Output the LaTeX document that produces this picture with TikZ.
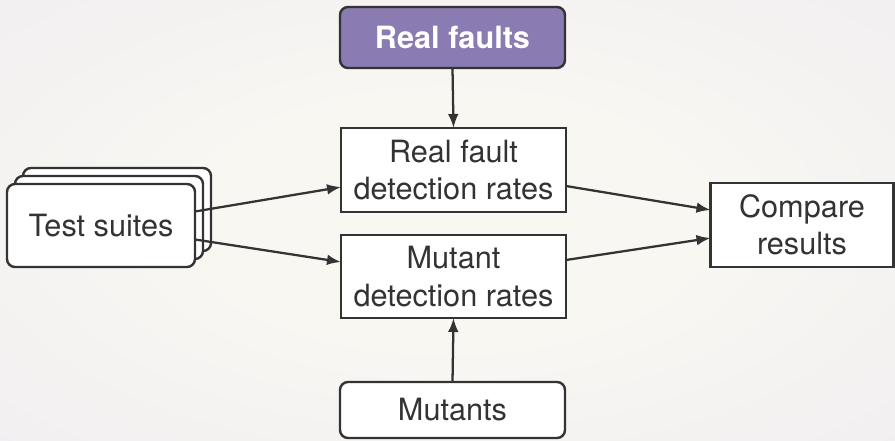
\documentclass[tikz,border=0pt]{standalone}
\usepackage{fontspec}
\setmainfont{TeX Gyre Heros}
\usetikzlibrary{arrows.meta,calc}
\definecolor{bgin}{HTML}{F9F7F2}
\definecolor{bgout}{HTML}{ECEAF0}
\definecolor{ink}{HTML}{333333}
\definecolor{purp}{HTML}{8A7CB2}
\pgfdeclareradialshading{bgshade}{\pgfpoint{0bp}{0bp}}{color(0bp)=(bgin); color(14bp)=(bgin); color(50bp)=(bgout); color(70bp)=(bgout)}
\tikzset{
  box/.style={draw=ink, line width=1.8pt, fill=white, text=ink, align=center, inner sep=0pt, outer sep=0pt,
    font=\fontsize{23}{28}\selectfont},
  rbox/.style={box, rounded corners=6pt},
  conn/.style={draw=ink, line width=1.7pt, -{Latex[length=10.5pt,width=8pt]}},
}
\begin{document}
\begin{tikzpicture}[x=0.75pt,y=-0.75pt]
\useasboundingbox (0,0) rectangle (895,441);
\shade[shading=bgshade] (0,0) rectangle (895,441);
% nodes
\node[rbox, fill=purp, text=white, font=\fontsize{23}{28}\selectfont\bfseries,
      minimum width=168.75pt, minimum height=45.75pt] (rf) at (452.5,37.5) {Real faults};
\node[box, minimum width=168.75pt, minimum height=63pt] (rfd) at (453.5,170) {Real fault\\detection rates};
\node[box, minimum width=168.75pt, minimum height=62.25pt] (md) at (453.5,276.5) {Mutant\\detection rates};
\node[rbox, minimum width=168.75pt, minimum height=42pt] (mu) at (452.5,410) {Mutants};
\node[rbox, minimum width=141pt, minimum height=62.25pt] (ts3) at (117,209.5) {};
\node[rbox, minimum width=141pt, minimum height=62.25pt] (ts2) at (109,217.5) {};
\node[rbox, minimum width=141pt, minimum height=62.25pt] (ts) at (101,225.5) {Test suites};
\node[box, minimum width=137.25pt, minimum height=63pt] (cr) at (802,225) {Compare\\results};
% connectors
\draw[conn] (rf.south) -- (rfd.north);
\draw[conn] (mu.north) -- (md.south);
\draw[conn] ($(ts.east)+(0,-14)$) -- ($(rfd.west)+(0,17)$);
\draw[conn] ($(ts.east)+(0,14)$) -- ($(md.west)+(0,-14.5)$);
\draw[conn] ($(rfd.east)+(0,16)$) -- ($(cr.west)+(0,-15)$);
\draw[conn] ($(md.east)+(0,-16.5)$) -- ($(cr.west)+(0,13)$);
\end{tikzpicture}
\end{document}
